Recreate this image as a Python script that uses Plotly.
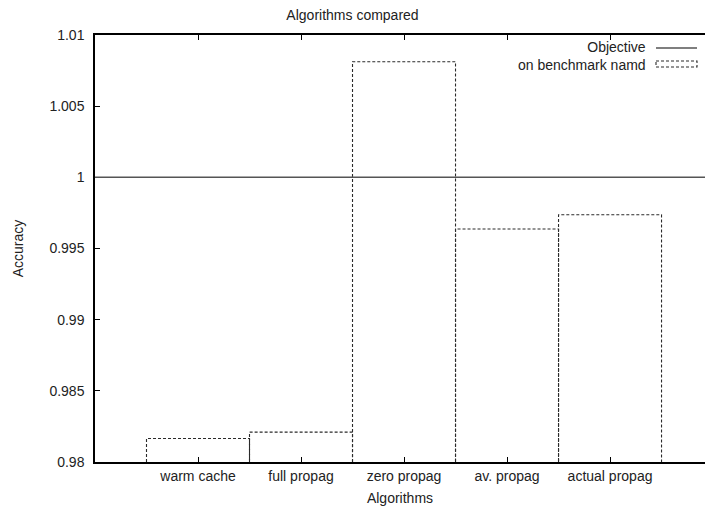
import plotly.graph_objects as go

# Benchmark results (namd) per algorithm, against the objective accuracy
algorithms = ["warm cache", "full propag", "zero propag", "av. propag", "actual propag"]
accuracy = [0.98165, 0.98210, 1.00812, 0.99637, 0.99737]
objective = 1.0
baseline = 0.98

y_ticks = [0.98, 0.985, 0.99, 0.995, 1.0, 1.005, 1.01]
y_tick_text = ["0.98", "0.985", "0.99", "0.995", "1", "1.005", "1.01"]

key_labels = ["Objective", "on benchmark namd"]

FONT = "Liberation Sans, Arial, Helvetica, sans-serif"
INK = "#222222"
DASH_COLOR = "#2a2a2a"

fig = go.Figure()

# Outline-only boxes, one unit wide, centred on each category position
for i, (name, val) in enumerate(zip(algorithms, accuracy)):
    fig.add_trace(go.Scatter(
        x=[i - 0.5, i - 0.5, i + 0.5, i + 0.5],
        y=[baseline, val, val, baseline],
        mode="lines",
        line=dict(color=DASH_COLOR, width=1.1, dash="3px,2px"),
        hoverinfo="skip",
        showlegend=False,
    ))

# Objective line across the whole plot
fig.add_shape(type="line", xref="paper", yref="y", x0=0, x1=1,
              y0=objective, y1=objective,
              line=dict(color="#555555", width=1.5))

# Key in the top-right corner: right-aligned labels, samples to their right
def px_x(px):
    return (px - 95) / 610.0

def px_y(py):
    return (462 - py) / 427.0

fig.add_annotation(xref="paper", yref="paper", x=px_x(648), y=px_y(56),
                   text="<br>".join(key_labels), showarrow=False,
                   xanchor="right", yanchor="middle", align="right",
                   font=dict(family=FONT, size=14, color=INK))
fig.add_shape(type="line", xref="paper", yref="paper",
              x0=px_x(656), x1=px_x(697), y0=px_y(48), y1=px_y(48),
              line=dict(color="#555555", width=1.5))
fig.add_shape(type="rect", xref="paper", yref="paper",
              x0=px_x(656), x1=px_x(697), y0=px_y(61), y1=px_y(67),
              line=dict(color=DASH_COLOR, width=1.1, dash="3px,2px"))

fig.update_layout(
    width=705, height=514,
    margin=dict(l=95, r=0, t=35, b=52),
    paper_bgcolor="white", plot_bgcolor="white",
    font=dict(family=FONT, size=14, color=INK),
    title=dict(text="Algorithms compared", x=0.5, xanchor="center",
               y=1 - 15 / 514, yanchor="middle",
               font=dict(family=FONT, size=14, color=INK)),
    showlegend=False,
)

fig.update_xaxes(
    range=[-1, 4.922],
    tickmode="array", tickvals=list(range(len(algorithms))), ticktext=algorithms,
    ticks="inside", ticklen=5, tickwidth=1, tickcolor="black",
    showline=True, linecolor="black", linewidth=1.5, mirror="ticks",
    showgrid=False, zeroline=False,
    title=dict(text="Algorithms", standoff=11, font=dict(family=FONT, size=14, color=INK)),
    tickfont=dict(family=FONT, size=14, color=INK),
)

fig.update_yaxes(
    range=[0.98, 1.01],
    tickmode="array", tickvals=y_ticks, ticktext=y_tick_text,
    ticks="inside", ticklen=5, tickwidth=1, tickcolor="black",
    showline=True, linecolor="black", linewidth=1.5,
    showgrid=False, zeroline=False,
    ticklabelstandoff=6,
    title=dict(text="Accuracy", standoff=23, font=dict(family=FONT, size=14, color=INK)),
    tickfont=dict(family=FONT, size=14, color=INK),
)

fig.write_html("out.html")
